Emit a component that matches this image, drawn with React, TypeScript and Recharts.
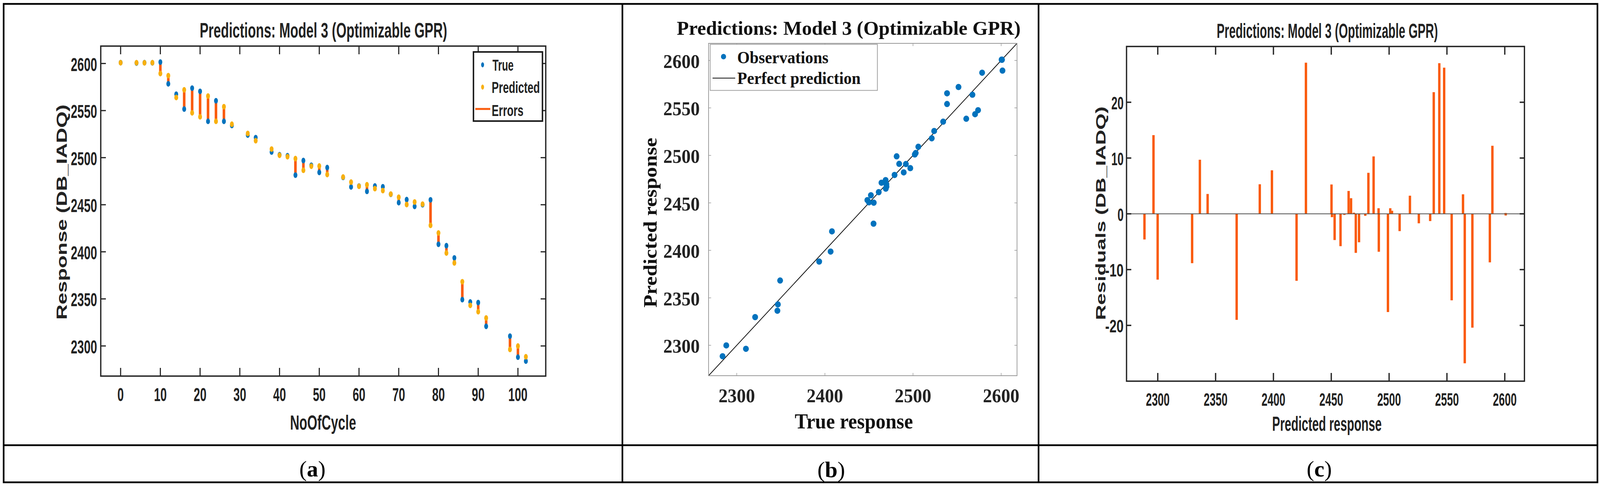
import { ComposedChart, ErrorBar, ReferenceLine, Scatter, XAxis, YAxis } from "recharts";

// cycle number of every observation (panel a)
const cycles = [
  0, 4, 6, 8, 10, 12, 14, 16, 18, 20, 22, 24, 26, 28, 32, 34, 38, 40, 42, 44, 46, 48, 50,
  52, 56, 58, 60, 62, 64, 66, 68, 70, 72, 74, 76, 78, 80, 82, 84, 86, 88, 90, 92, 98, 100, 102
];

const trueResponse = [
  2600.9, 2600.5, 2600.85, 2600.7, 2601.5, 2578.4, 2567.4, 2551.6, 2573.8, 2570.4, 2538.6,
  2560.4, 2538.6, 2534.2, 2524.0, 2521.25, 2506.0, 2503.05, 2502.0, 2481.4, 2496.9, 2491.9,
  2484.3, 2489.45, 2479.04, 2468.9, 2469.8, 2464.2, 2469.9, 2469.1, 2461.1, 2452.2, 2455.46,
  2448.2, 2450.0, 2455.2, 2408.0, 2406.5, 2393.5, 2349.2, 2346.66, 2346.1, 2320.85, 2310.4,
  2288.1, 2283.9
];

const predictedResponse = [
  2600.8, 2600.8, 2600.7, 2600.8, 2589.3, 2587.1, 2563.9, 2572.0, 2547.6, 2543.4, 2565.4,
  2538.6, 2554.1, 2535.5, 2525.7, 2518.0, 2509.1, 2502.5, 2501.0, 2499.0, 2486.6, 2490.9,
  2491.1, 2482.1, 2479.4, 2474.0, 2469.6, 2471.2, 2467.1, 2465.0, 2461.3, 2458.0, 2450.2,
  2452.9, 2450.6, 2428.1, 2420.0, 2398.7, 2388.2, 2368.2, 2343.1, 2336.4, 2329.7, 2296.3,
  2299.9, 2288.5
];

const cycleTicks = [0, 10, 20, 30, 40, 50, 60, 70, 80, 90, 100];
const responseTicks = [2300, 2350, 2400, 2450, 2500, 2550, 2600];
const trueTicks = [2300, 2400, 2500, 2600];
const predictedTicks = [2300, 2350, 2400, 2450, 2500, 2550, 2600];
const residualTicks = [-20, -10, 0, 10, 20];

const cycleDomain: [number, number] = [-5, 107];
const responseDomain: [number, number] = [2268, 2618.5];
const fitDomain: [number, number] = [2268, 2618];
const predDomain: [number, number] = [2273, 2617];
const residualDomain: [number, number] = [-30, 30];

const BLUE = "#0072BD";
const YELLOW = "#F8B00F";
const RED = "#FA5A0C";
const INK = "#222222";
const SANS = "'Liberation Sans', Arial, sans-serif";
const SERIF = "'Liberation Serif', 'Times New Roman', serif";

const PAGE_W = 4383;
const PAGE_H = 1247;

type Frame = { left: number; right: number; top: number; bottom: number };
type TickStyle = {
  len: number;
  color: string;
  width: number;
  font: string;
  size: number;
  charW?: number;
  gap: number;
};

function bottomTick(frame: Frame, s: TickStyle) {
  return (props: any) => {
    const { x, payload } = props;
    const label = String(payload.value);
    return (
      <g>
        <line x1={x} x2={x} y1={frame.bottom} y2={frame.bottom - s.len} stroke={s.color} strokeWidth={s.width} />
        <line x1={x} x2={x} y1={frame.top} y2={frame.top + s.len} stroke={s.color} strokeWidth={s.width} />
        <text
          x={x}
          y={frame.bottom + s.gap}
          textAnchor="middle"
          dominantBaseline="central"
          fontFamily={s.font}
          fontWeight="bold"
          fontSize={s.size}
          fill={INK}
          textLength={s.charW ? label.length * s.charW : undefined}
          lengthAdjust="spacingAndGlyphs"
        >
          {label}
        </text>
      </g>
    );
  };
}

function leftTick(frame: Frame, s: TickStyle) {
  return (props: any) => {
    const { y, payload } = props;
    const label = String(payload.value);
    return (
      <g>
        <line x1={frame.left} x2={frame.left + s.len} y1={y} y2={y} stroke={s.color} strokeWidth={s.width} />
        <line x1={frame.right} x2={frame.right - s.len} y1={y} y2={y} stroke={s.color} strokeWidth={s.width} />
        <text
          x={frame.left - s.gap}
          y={y + 2}
          textAnchor="end"
          dominantBaseline="central"
          fontFamily={s.font}
          fontWeight="bold"
          fontSize={s.size}
          fill={INK}
          textLength={s.charW ? label.length * s.charW : undefined}
          lengthAdjust="spacingAndGlyphs"
        >
          {label}
        </text>
      </g>
    );
  };
}

const dot = (fill: string, rx: number, ry: number) => (props: any) =>
  <ellipse cx={props.cx} cy={props.cy} rx={rx} ry={ry} fill={fill} />;

const nothing = () => <g />;

// panel (a): response vs cycle
const aW = 1705;
const aH = 1140;
const aFrame: Frame = { left: 276, right: 1495, top: 118, bottom: 963 };

function CyclePanel() {
  const trueData = cycles.map((c, i) => ({ x: c, y: trueResponse[i] }));
  const predData = cycles.map((c, i) => ({ x: c, y: predictedResponse[i] }));
  const errData = cycles.map((c, i) => {
    const d = trueResponse[i] - predictedResponse[i];
    return { x: c, y: predictedResponse[i], err: [d < 0 ? -d : 0, d > 0 ? d : 0] };
  });
  const xs: TickStyle = { len: 21, color: INK, width: 3, font: SANS, size: 49, charW: 17.5, gap: 47 };
  const ys: TickStyle = { len: 14, color: INK, width: 3, font: SANS, size: 49, charW: 18, gap: 10 };
  return (
    <div style={{ position: "absolute", left: 0, top: 0 }}>
      <ComposedChart
        width={aW}
        height={aH}
        margin={{ top: aFrame.top, right: aW - aFrame.right, bottom: 0, left: 0 }}
      >
        <XAxis
          dataKey="x"
          type="number"
          domain={cycleDomain}
          ticks={cycleTicks}
          interval={0}
          allowDataOverflow
          height={aH - aFrame.bottom}
          tickSize={0}
          tickMargin={0}
          axisLine={false}
          tick={bottomTick(aFrame, xs)}
        />
        <YAxis
          dataKey="y"
          type="number"
          domain={responseDomain}
          ticks={responseTicks}
          interval={0}
          allowDataOverflow
          width={aFrame.left}
          tickSize={0}
          tickMargin={0}
          axisLine={false}
          tick={leftTick(aFrame, ys)}
        />
        <Scatter name="True" data={trueData} shape={dot(BLUE, 5.3, 7.3)} isAnimationActive={false} />
        <Scatter name="Predicted" data={predData} shape={dot(YELLOW, 5.3, 7.3)} isAnimationActive={false} />
        <Scatter name="Errors" data={errData} shape={nothing} isAnimationActive={false}>
          <ErrorBar dataKey="err" direction="y" width={0} stroke={RED} strokeWidth={7} isAnimationActive={false} />
        </Scatter>
      </ComposedChart>
    </div>
  );
}

// panel (b): predicted vs true
const bX = 1705;
const bW = 1140;
const bH = 1140;
const bFrame: Frame = { left: 236, right: 1081, top: 111, bottom: 962 };

function FitPanel() {
  const obs = trueResponse.map((t, i) => ({ x: t, y: predictedResponse[i] }));
  const diag = [
    { x: fitDomain[0], y: fitDomain[0] },
    { x: fitDomain[1], y: fitDomain[1] }
  ];
  const xs: TickStyle = { len: 7, color: "#999999", width: 1.5, font: SERIF, size: 50, gap: 51 };
  const ys: TickStyle = { len: 7, color: "#999999", width: 1.5, font: SERIF, size: 50, gap: 24 };
  return (
    <div style={{ position: "absolute", left: bX, top: 0 }}>
      <ComposedChart
        width={bW}
        height={bH}
        margin={{ top: bFrame.top, right: bW - bFrame.right, bottom: 0, left: 0 }}
      >
        <XAxis
          dataKey="x"
          type="number"
          domain={fitDomain}
          ticks={trueTicks}
          interval={0}
          allowDataOverflow
          height={bH - bFrame.bottom}
          tickSize={0}
          tickMargin={0}
          axisLine={false}
          tick={bottomTick(bFrame, xs)}
        />
        <YAxis
          dataKey="y"
          type="number"
          domain={fitDomain}
          ticks={responseTicks}
          interval={0}
          allowDataOverflow
          width={bFrame.left}
          tickSize={0}
          tickMargin={0}
          axisLine={false}
          tick={leftTick(bFrame, ys)}
        />
        <Scatter
          name="Perfect prediction"
          data={diag}
          shape={nothing}
          line={{ stroke: "#111111", strokeWidth: 2 }}
          isAnimationActive={false}
        />
        <Scatter name="Observations" data={obs} shape={dot(BLUE, 8, 8)} isAnimationActive={false} />
      </ComposedChart>
    </div>
  );
}

// panel (c): residuals vs predicted
const cX = 2845;
const cW = 1533;
const cH = 1140;
const cFrame: Frame = { left: 241, right: 1331, top: 119, bottom: 976 };

function ResidualPanel() {
  const res = predictedResponse.map((p, i) => {
    const r = trueResponse[i] - p;
    return { x: p, y: 0, err: [r < 0 ? -r : 0, r > 0 ? r : 0] };
  });
  const xs: TickStyle = { len: 21, color: INK, width: 3.5, font: SANS, size: 47, charW: 16.3, gap: 47 };
  const ys: TickStyle = { len: 13, color: INK, width: 3.5, font: SANS, size: 47, charW: 16.8, gap: 8 };
  return (
    <div style={{ position: "absolute", left: cX, top: 0 }}>
      <ComposedChart
        width={cW}
        height={cH}
        margin={{ top: cFrame.top, right: cW - cFrame.right, bottom: 0, left: 0 }}
      >
        <XAxis
          dataKey="x"
          type="number"
          domain={predDomain}
          ticks={predictedTicks}
          interval={0}
          allowDataOverflow
          height={cH - cFrame.bottom}
          tickSize={0}
          tickMargin={0}
          axisLine={false}
          tick={bottomTick(cFrame, xs)}
        />
        <YAxis
          dataKey="y"
          type="number"
          domain={residualDomain}
          ticks={residualTicks}
          interval={0}
          allowDataOverflow
          width={cFrame.left}
          tickSize={0}
          tickMargin={0}
          axisLine={false}
          tick={leftTick(cFrame, ys)}
        />
        <Scatter name="Residuals" data={res} shape={nothing} isAnimationActive={false}>
          <ErrorBar dataKey="err" direction="y" width={0} stroke={RED} strokeWidth={6.5} isAnimationActive={false} />
        </Scatter>
        <ReferenceLine y={0} stroke="#4d4d4d" strokeWidth={2} />
      </ComposedChart>
    </div>
  );
}

function Overlay() {
  const sq = { lengthAdjust: "spacingAndGlyphs" as const };
  return (
    <svg
      width={PAGE_W}
      height={PAGE_H}
      style={{ position: "absolute", left: 0, top: 0, pointerEvents: "none" }}
    >
      {/* table lines */}
      <rect x={10} y={10} width={4366} height={1225} fill="none" stroke="#000" strokeWidth={4.5} />
      <line x1={10} x2={4376} y1={1140} y2={1140} stroke="#000" strokeWidth={4.5} />
      <line x1={1705} x2={1705} y1={10} y2={1235} stroke="#000" strokeWidth={4.5} />
      <line x1={2845} x2={2845} y1={10} y2={1235} stroke="#000" strokeWidth={4.5} />

      {/* axes boxes */}
      <rect x={aFrame.left} y={aFrame.top} width={aFrame.right - aFrame.left} height={aFrame.bottom - aFrame.top}
        fill="none" stroke={INK} strokeWidth={3.5} />
      <rect x={bX + bFrame.left} y={bFrame.top} width={bFrame.right - bFrame.left} height={bFrame.bottom - bFrame.top}
        fill="none" stroke="#999999" strokeWidth={2} />
      <rect x={cX + cFrame.left} y={cFrame.top} width={cFrame.right - cFrame.left} height={cFrame.bottom - cFrame.top}
        fill="none" stroke={INK} strokeWidth={3.5} />

      {/* panel (a) texts */}
      <text x={886} y={96} textAnchor="middle" fontFamily={SANS} fontWeight="bold" fontSize={53} fill={INK}
        textLength={678} {...sq}>Predictions: Model 3 (Optimizable GPR)</text>
      <text x={885} y={1100} textAnchor="middle" fontFamily={SANS} fontWeight="bold" fontSize={52} fill={INK}
        textLength={181} {...sq}>NoOfCycle</text>
      <text transform="translate(169,543) rotate(-90)" textAnchor="middle" dominantBaseline="central"
        fontFamily={SANS} fontWeight="bold" fontSize={40} fill={INK} textLength={551} {...sq}>Response (DB_IADQ)</text>

      {/* panel (a) legend */}
      <rect x={1297} y={133} width={189} height={177} fill="#fff" stroke="#1a1a1a" strokeWidth={4} />
      <ellipse cx={1322} cy={166} rx={4} ry={6.5} fill={BLUE} />
      <ellipse cx={1322} cy={223} rx={4} ry={6.5} fill={YELLOW} />
      <line x1={1302} x2={1343} y1={279} y2={279} stroke={RED} strokeWidth={5} />
      <text x={1349} y={167} dominantBaseline="central" fontFamily={SANS} fontWeight="bold" fontSize={41} fill={INK}
        textLength={58} {...sq}>True</text>
      <text x={1347} y={224} dominantBaseline="central" fontFamily={SANS} fontWeight="bold" fontSize={41} fill={INK}
        textLength={132} {...sq}>Predicted</text>
      <text x={1347} y={283} dominantBaseline="central" fontFamily={SANS} fontWeight="bold" fontSize={41} fill={INK}
        textLength={87} {...sq}>Errors</text>

      {/* panel (b) texts */}
      <text x={2325} y={89} textAnchor="middle" fontFamily={SERIF} fontWeight="bold" fontSize={51} fill="#111"
        textLength={942} {...sq}>Predictions: Model 3 (Optimizable GPR)</text>
      <text x={2339} y={1097} textAnchor="middle" fontFamily={SERIF} fontWeight="bold" fontSize={55} fill="#111"
        textLength={324} {...sq}>True response</text>
      <text transform="translate(1781,570) rotate(-90)" textAnchor="middle" dominantBaseline="central"
        fontFamily={SERIF} fontWeight="bold" fontSize={52} fill="#111" textLength={435} {...sq}>Predicted response</text>

      {/* panel (b) legend */}
      <rect x={1945.5} y={113.5} width={458} height={118} fill="#fff" stroke="#a0a0a0" strokeWidth={2} />
      <circle cx={1982} cy={145} r={7} fill={BLUE} />
      <line x1={1952} x2={2014} y1={200} y2={200} stroke="#111" strokeWidth={2} />
      <text x={2019.5} y={162} fontFamily={SERIF} fontWeight="bold" fontSize={44} fill="#111"
        textLength={250} {...sq}>Observations</text>
      <text x={2019.5} y={215} fontFamily={SERIF} fontWeight="bold" fontSize={44} fill="#111"
        textLength={338} {...sq}>Perfect prediction</text>

      {/* panel (c) texts */}
      <text x={3636} y={97} textAnchor="middle" fontFamily={SANS} fontWeight="bold" fontSize={52} fill={INK}
        textLength={606} {...sq}>Predictions: Model 3 (Optimizable GPR)</text>
      <text x={3635} y={1103} textAnchor="middle" fontFamily={SANS} fontWeight="bold" fontSize={51} fill={INK}
        textLength={300} {...sq}>Predicted response</text>
      <text transform="translate(3015,546) rotate(-90)" textAnchor="middle" dominantBaseline="central"
        fontFamily={SANS} fontWeight="bold" fontSize={38} fill={INK} textLength={547} {...sq}>Residuals (DB_IADQ)</text>

      {/* captions */}
      <text x={856} y={1200} textAnchor="middle" dominantBaseline="central" fontFamily={SERIF} fontSize={58}
        fill="#000" textLength={72} {...sq}>(<tspan fontWeight="bold">a</tspan>)</text>
      <text x={2277} y={1202} textAnchor="middle" dominantBaseline="central" fontFamily={SERIF} fontSize={58}
        fill="#000" textLength={76} {...sq}>(<tspan fontWeight="bold">b</tspan>)</text>
      <text x={3614} y={1200} textAnchor="middle" dominantBaseline="central" fontFamily={SERIF} fontSize={58}
        fill="#000" textLength={69} {...sq}>(<tspan fontWeight="bold">c</tspan>)</text>
    </svg>
  );
}

export default function App() {
  // the browser window can be narrower than the figure; squeeze it horizontally to fit
  const vw = typeof window !== "undefined" ? window.innerWidth : PAGE_W;
  const sx = Math.min(1, vw / PAGE_W);
  return (
    <div style={{ position: "absolute", left: 0, top: 0, width: vw, height: PAGE_H, overflow: "hidden", background: "#fff" }}>
      <div
        style={{
          position: "absolute",
          left: 0,
          top: 0,
          width: PAGE_W,
          height: PAGE_H,
          transform: `scale(${sx}, 1)`,
          transformOrigin: "0 0"
        }}
      >
        <CyclePanel />
        <FitPanel />
        <ResidualPanel />
        <Overlay />
      </div>
    </div>
  );
}
